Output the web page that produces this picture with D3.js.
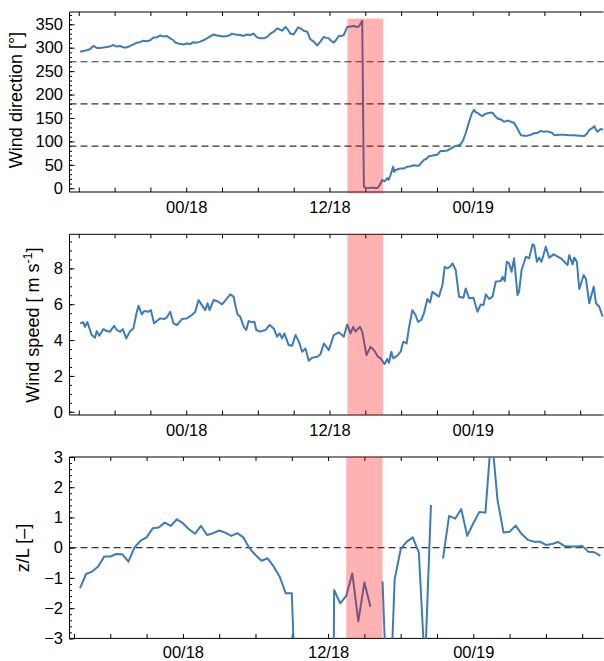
<!DOCTYPE html>
<html>
<head>
<meta charset="utf-8">
<script src="https://cdn.jsdelivr.net/npm/d3@7"></script>
<style>
  body { margin: 0; background: #fff; }
  text { font-family: "Liberation Sans", Arial, sans-serif; fill: #000; }
</style>
</head>
<body>
<svg id="chart" width="604" height="661"></svg>
<script>
// ---------------- DATA ----------------
// time axis: hours relative to 00:00 on the 18th
const baseDate = new Date(2000, 0, 18, 0, 0, 0);

// wind direction [deg]: [hour, value]
const windDirection = [
  [-8.89,291.5],[-8.33,294.6],[-8.06,296.6],[-7.78,303.7],[-7.49,299.6],[-7.13,299.6],[-6.65,301.7],[-6.38,302.7],
  [-6.13,305.7],[-5.87,302.7],[-5.54,303.7],[-5.26,300.6],[-4.98,300.6],[-4.70,303.7],[-4.45,306.7],[-4.14,310.8],
  [-3.86,311.8],[-3.61,314.9],[-3.30,313.9],[-3.02,315.9],[-2.74,322.0],[-2.46,322.0],[-2.18,326.1],[-1.90,324.0],
  [-1.62,325.1],[-1.34,320.0],[-1.07,315.9],[-0.92,310.8],[-0.65,308.8],[-0.25,306.7],[0.06,308.8],[0.34,307.8],
  [0.59,311.8],[0.90,310.8],[1.17,312.9],[1.45,315.9],[1.74,320.0],[2.01,324.0],[2.27,328.1],[2.58,326.1],
  [2.85,325.1],[3.13,324.0],[3.42,325.1],[3.69,327.1],[3.83,330.1],[4.11,328.1],[4.53,327.1],[4.81,325.1],
  [5.09,328.1],[5.37,327.1],[5.65,330.1],[5.93,322.0],[6.21,320.0],[6.49,320.0],[6.77,323.0],[7.05,330.1],
  [7.33,334.2],[7.61,341.3],[7.89,338.3],[8.03,336.2],[8.31,344.4],[8.52,338.3],[8.73,330.1],[9.00,328.1],
  [9.37,343.4],[9.57,341.3],[9.84,336.2],[10.13,334.2],[10.40,318.0],[10.68,312.9],[10.97,304.7],[11.24,312.9],
  [11.52,323.0],[11.75,321.0],[11.94,320.0],[12.13,314.9],[12.36,310.8],[12.59,318.0],[12.78,325.1],[13.01,325.1],
  [13.20,327.1],[13.48,344.4],[13.76,345.4],[14.04,346.4],[14.26,344.4],[14.46,345.4],[14.74,357.6],[14.88,3.4],
  [15.02,1.3],[15.30,0.3],[15.48,1.3],[15.69,1.3],[15.86,0.5],[16.00,0.3],[16.19,6.4],[16.42,17.6],
  [16.61,14.6],[16.84,21.7],[16.95,17.6],[17.12,28.8],[17.33,46.1],[17.41,34.9],[17.54,39.0],[17.79,41.0],
  [17.96,42.0],[18.21,42.0],[18.52,46.1],[18.80,47.1],[19.07,49.2],[19.30,48.2],[19.49,48.2],[19.72,55.3],
  [19.91,60.4],[20.14,63.4],[20.33,68.5],[20.56,69.5],[20.75,70.6],[21.04,71.6],[21.31,79.7],[21.59,79.7],
  [21.88,80.7],[22.15,84.8],[22.43,88.9],[22.71,90.9],[22.99,94.0],[23.20,103.1],[23.41,117.4],[23.69,141.8],
  [23.91,159.1],[24.11,167.3],[24.25,162.2],[24.39,161.2],[24.59,157.1],[24.81,154.0],[25.01,158.1],[25.23,160.1],
  [25.42,161.2],[25.65,161.2],[25.84,155.0],[26.07,149.0],[26.35,146.9],[26.62,141.8],[26.85,143.9],[27.04,143.9],
  [27.27,140.8],[27.46,139.8],[27.69,129.6],[28.03,113.3],[28.30,112.3],[28.59,112.3],[28.87,114.3],[29.14,117.4],
  [29.43,118.4],[29.70,122.5],[29.96,120.4],[30.12,121.4],[30.40,120.4],[30.63,118.4],[30.82,113.3],[31.22,114.3],
  [31.66,114.3],[32.05,113.3],[32.50,113.3],[32.89,112.3],[33.34,111.3],[33.56,116.4],[33.76,124.5],[33.98,127.6],
  [34.18,132.6],[34.32,124.5],[34.46,120.4],[34.61,124.5],[34.74,126.5],[34.91,124.5]
];

// wind speed [m/s]: [hour, value]
const windSpeed = [
  [-8.89,4.93],[-8.62,4.99],[-8.48,4.74],[-8.28,5.00],[-8.06,4.56],[-7.91,4.28],[-7.64,4.13],[-7.49,4.50],
  [-7.28,4.24],[-6.94,4.61],[-6.65,4.50],[-6.38,4.47],[-6.04,4.80],[-5.81,4.56],[-5.54,4.47],[-5.31,4.61],
  [-5.03,4.09],[-4.70,4.50],[-4.42,4.65],[-4.20,5.40],[-4.00,5.92],[-3.72,5.43],[-3.52,5.62],[-3.16,5.58],
  [-2.96,5.67],[-2.69,4.93],[-2.46,5.06],[-2.18,5.21],[-1.85,5.17],[-1.62,5.27],[-1.34,5.58],[-1.07,4.93],
  [-0.78,4.84],[-0.36,5.17],[0.06,5.21],[0.48,5.40],[0.76,5.58],[1.03,6.23],[1.32,5.95],[1.59,5.67],
  [1.79,6.05],[1.96,5.67],[2.29,6.23],[2.58,6.18],[3.00,5.99],[3.42,6.33],[3.69,6.55],[3.97,6.42],
  [4.11,5.95],[4.30,5.43],[4.53,5.30],[4.81,4.74],[5.03,4.56],[5.23,5.06],[5.51,4.99],[5.71,5.02],
  [5.87,4.56],[6.21,4.47],[6.63,4.56],[6.99,4.84],[7.33,4.65],[7.61,4.19],[7.83,4.37],[8.03,4.09],
  [8.22,4.37],[8.58,3.72],[8.87,3.68],[9.15,4.28],[9.42,3.94],[9.71,3.35],[9.99,3.53],[10.26,2.85],
  [10.55,3.01],[10.97,3.07],[11.24,3.20],[11.52,3.81],[11.94,3.44],[12.36,4.28],[12.78,4.43],[13.20,4.19],
  [13.48,4.87],[13.76,4.37],[13.99,4.74],[14.18,4.47],[14.54,4.74],[14.74,4.47],[15.10,3.16],[15.44,3.63],
  [15.72,3.44],[16.05,3.07],[16.28,2.98],[16.61,2.66],[16.84,2.94],[16.98,2.73],[17.18,3.35],[17.34,2.98],
  [17.68,3.13],[17.96,3.35],[18.18,3.91],[18.46,3.81],[18.65,4.65],[18.94,5.67],[19.21,5.40],[19.41,5.02],
  [19.69,5.12],[19.91,5.49],[20.20,6.29],[20.42,6.10],[20.62,6.70],[20.90,6.55],[21.17,6.42],[21.46,7.07],
  [21.65,8.09],[21.88,8.00],[22.09,8.09],[22.30,8.28],[22.57,7.91],[22.85,6.42],[23.22,6.36],[23.41,6.88],
  [23.69,6.33],[24.06,6.36],[24.39,5.58],[24.67,5.99],[24.90,5.95],[25.09,6.55],[25.37,6.29],[25.65,6.42],
  [25.93,7.26],[26.35,7.29],[26.49,7.53],[26.68,7.29],[26.85,8.37],[27.04,8.28],[27.25,7.81],[27.46,8.56],
  [27.75,6.51],[27.88,6.70],[28.09,7.91],[28.45,8.65],[28.72,8.56],[29.01,9.34],[29.14,9.30],[29.37,8.37],
  [29.56,8.60],[29.76,8.37],[30.12,9.21],[30.40,8.60],[30.77,8.78],[31.38,8.56],[31.94,8.19],[32.08,8.74],
  [32.36,8.22],[32.50,8.60],[32.72,8.37],[32.92,6.85],[33.29,7.63],[33.48,7.40],[33.76,6.05],[33.90,6.42],
  [34.13,6.98],[34.32,6.05],[34.60,5.86],[34.88,5.30]
];

// stability parameter z/L [-], half-hourly: [hour, value]; null = missing
const stability = [
  [-8.5,-1.34],[-8.0,-0.87],[-7.5,-0.79],[-7.0,-0.62],[-6.5,-0.29],[-6.0,-0.29],[-5.5,-0.21],[-5.0,-0.22],
  [-4.5,-0.46],[-4.0,0.01],[-3.5,0.23],[-3.0,0.34],[-2.5,0.64],[-2.0,0.67],[-1.5,0.83],[-1.0,0.72],
  [-0.5,0.94],[0.0,0.81],[0.5,0.61],[1.0,0.46],[1.5,0.72],[2.0,0.42],[2.5,0.48],[3.0,0.57],
  [3.5,0.50],[4.0,0.39],[4.5,0.48],[5.0,0.34],[5.5,-0.02],[6.0,-0.24],[6.5,-0.43],[7.0,-0.35],
  [7.5,-0.62],[8.0,-0.96],[8.5,-1.51],[9.0,-1.51],[9.5,-7.0],[10.0,null],[10.5,null],[11.0,null],
  [11.5,null],[12.0,-30.0],[12.5,-1.40],[13.0,-1.84],[13.5,-1.59],[14.0,-0.85],[14.5,-2.44],[15.0,-1.15],
  [15.5,-1.95],[16.0,null],[16.5,-1.12],[17.0,-6.5],[17.5,-1.05],[18.0,-0.05],[18.5,0.20],[19.0,0.34],
  [19.5,-0.16],[20.0,-4.0],[20.5,1.41],[21.0,null],[21.5,-0.35],[22.0,1.05],[22.5,0.96],[23.0,1.28],
  [23.5,0.39],[24.0,0.81],[24.5,1.18],[25.0,1.16],[25.5,3.8],[26.0,1.58],[26.5,0.50],[27.0,0.53],
  [27.5,0.73],[28.0,0.45],[28.5,0.26],[29.0,0.20],[29.5,0.20],[30.0,0.09],[30.5,0.12],[31.0,0.19],
  [31.5,0.06],[32.0,0.04],[32.5,0.04],[33.0,0.06],[33.5,-0.13],[34.0,-0.15],[34.5,-0.27]
];

// highlighted interval (hours)
const shadeInterval = [13.5, 16.5];

// reference (dashed) lines
const dirRefLines = [90, 180, 270];
const stabRefLines = [0];

// tick values
const dirMajorTicks = [0, 50, 100, 150, 200, 250, 300, 350];
const dirMinorStep = 10;
const speedMajorTicks = [0, 2, 4, 6, 8];
const speedMinorStep = 0.5;
const stabMajorTicks = [-3, -2, -1, 0, 1, 2, 3];
const stabMinorStep = 0.2;
const xTickEveryHours = 3;
const xLabelEveryHours = 12;

// titles
const titles = ["Wind direction [°]", "Wind speed [ m s", "z/L [–]"];

// ---------------- LAYOUT ----------------
const W = 604, H = 661;
const LEFT = 69.5, RIGHT = 603.5;
const lineColor = "#3c7cb8";
const fontTick = 16.5, fontTitle = 18;

const svg = d3.select("#chart");
const toDate = h => new Date(baseDate.getTime() + h * 3600e3);

function rangeTicks(lo, hi, step) {
  const out = [];
  const n = Math.round((hi - lo) / step);
  for (let i = 0; i <= n; i++) out.push(+(lo + i * step).toFixed(6));
  return out;
}

function drawPanel(cfg) {
  const x = d3.scaleTime().domain(cfg.xHours.map(toDate)).range([LEFT, RIGHT]);
  const y = d3.scaleLinear().domain(cfg.yDomain).range([cfg.bottom, cfg.top]);
  const g = svg.append("g");
  const clipId = "clip" + cfg.id;
  svg.append("clipPath").attr("id", clipId).append("rect")
    .attr("x", LEFT).attr("y", cfg.top).attr("width", RIGHT - LEFT).attr("height", cfg.bottom - cfg.top);

  // x ticks every 3 hours, labelled at 00 and 12
  const xTicks = d3.timeHour.every(xTickEveryHours).range(...x.domain().map((d, i) => i ? new Date(+d + 1) : d));
  const fmt = d3.timeFormat("%H/%d");
  const xAxisB = d3.axisBottom(x).tickValues(xTicks).tickSize(-4.5).tickPadding(cfg.xPad)
    .tickFormat(d => d.getHours() % xLabelEveryHours === 0 ? fmt(d) : "");
  const gb = g.append("g").attr("transform", `translate(0,${cfg.bottom})`).call(xAxisB);
  const xAxisT = d3.axisTop(x).tickValues(xTicks).tickSize(-4).tickFormat("");
  const gt = g.append("g").attr("transform", `translate(0,${cfg.top})`).call(xAxisT);

  // y ticks
  const yAxis = d3.axisLeft(y).tickValues(cfg.majorTicks).tickSize(-5).tickPadding(6.5)
    .tickFormat(d3.format("d"));
  const gl = g.append("g").attr("transform", `translate(${LEFT},0)`).call(yAxis);
  const minor = rangeTicks(cfg.majorTicks[0], cfg.majorTicks[cfg.majorTicks.length - 1] + cfg.minorPadTop, cfg.minorStep)
    .filter(v => v >= cfg.yDomain[0] && v <= cfg.yDomain[1]);
  const gm = g.append("g").attr("transform", `translate(${LEFT},0)`)
    .call(d3.axisLeft(y).tickValues(minor).tickSize(-2.5).tickFormat(""));
  [gb, gt, gl, gm].forEach(a => {
    a.select(".domain").remove();
    a.selectAll("line").attr("stroke", "#000").attr("stroke-width", 1);
    a.selectAll("text").attr("font-size", fontTick).attr("font-family", '"Liberation Sans", Arial, sans-serif').attr("fill", "#000");
  });

  // frame: left, bottom, top
  g.append("path").attr("fill", "none").attr("stroke", "#000").attr("stroke-width", 1)
    .attr("d", `M${RIGHT},${cfg.top}H${LEFT}V${cfg.bottom}H${RIGHT}`);

  // dashed reference lines
  g.selectAll(".ref").data(cfg.refLines).enter().append("line")
    .attr("x1", LEFT).attr("x2", RIGHT)
    .attr("y1", d => y(d)).attr("y2", d => y(d))
    .attr("stroke", "#333").attr("stroke-width", 1.2).attr("stroke-dasharray", "7,4");

  // data line
  const line = d3.line()
    .defined(d => d[1] !== null)
    .x(d => x(toDate(d[0])))
    .y(d => y(d[1]));
  g.append("path").datum(cfg.data)
    .attr("clip-path", `url(#${clipId})`)
    .attr("fill", "none").attr("stroke", lineColor).attr("stroke-width", 2)
    .attr("stroke-linejoin", "round")
    .attr("d", line);

  // highlighted interval
  const sTop = cfg.shadeTop !== undefined ? y(cfg.shadeTop) : cfg.top;
  const sBot = cfg.shadeBottom !== undefined ? y(cfg.shadeBottom) : cfg.bottom;
  g.append("rect")
    .attr("x", x(toDate(shadeInterval[0])))
    .attr("width", x(toDate(shadeInterval[1])) - x(toDate(shadeInterval[0])))
    .attr("y", sTop).attr("height", sBot - sTop)
    .attr("fill", "rgb(255,0,0)").attr("fill-opacity", 0.3);

  // title
  const t = svg.append("text")
    .attr("transform", `translate(${cfg.titleX},${cfg.titleY}) rotate(-90)`)
    .attr("text-anchor", "middle").attr("font-size", fontTitle);
  t.append("tspan").text(cfg.title);
  if (cfg.superscript) {
    t.append("tspan").attr("font-size", fontTitle * 0.7).attr("dy", "-0.55em").text(cfg.superscript);
    t.append("tspan").attr("dy", "0.385em").text("]");
  }
}

drawPanel({
  id: 1, top: 12, bottom: 192, xHours: [-9.776, 34.95], yDomain: [-8, 376.2],
  majorTicks: dirMajorTicks, minorStep: dirMinorStep, minorPadTop: 20,
  refLines: dirRefLines, data: windDirection, shadeTop: 362, shadeBottom: -11,
  title: titles[0], titleX: 22, titleY: 100, xPad: 9.5
});
drawPanel({
  id: 2, top: 234.3, bottom: 415, xHours: [-9.776, 34.95], yDomain: [-0.18, 9.9],
  majorTicks: speedMajorTicks, minorStep: speedMinorStep, minorPadTop: 2,
  refLines: [], data: windSpeed,
  title: titles[1], superscript: "-1", titleX: 39.3, titleY: 325, xPad: 9.5
});
drawPanel({
  id: 3, top: 457, bottom: 638.4, xHours: [-9.371, 34.76], yDomain: [-3, 3],
  majorTicks: stabMajorTicks, minorStep: stabMinorStep, minorPadTop: 0,
  refLines: stabRefLines, data: stability,
  title: titles[2], titleX: 29.3, titleY: 548, xPad: 8
});
</script>
</body>
</html>
